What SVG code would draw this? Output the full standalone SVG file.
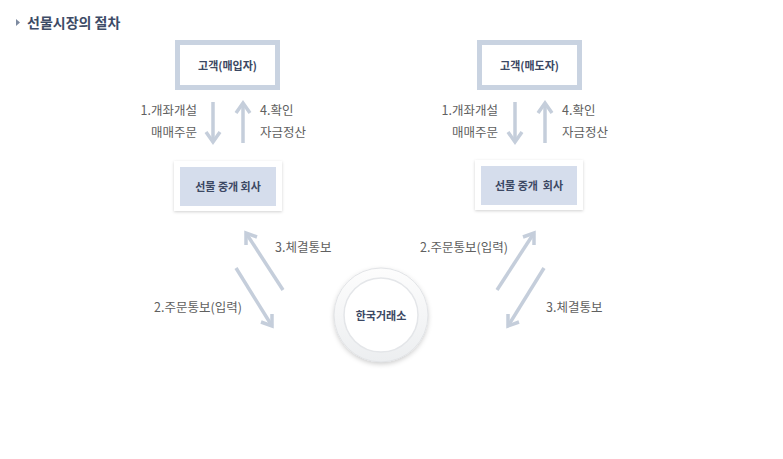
<svg xmlns="http://www.w3.org/2000/svg" width="783" height="459" viewBox="0 0 783 459">
<defs>
<style>
.lbl{font-family:"Noto Sans CJK KR","Liberation Sans",sans-serif;font-size:12.5px;fill:#606060;}
.box{font-family:"Noto Sans CJK KR","Liberation Sans",sans-serif;font-size:11px;font-weight:bold;fill:#3c4863;text-anchor:middle;}
.arr{stroke:#c5cedb;stroke-width:3.5;fill:none;stroke-linecap:butt;}
.top{fill:#fff;stroke:#c9d3e1;stroke-width:5;}
.frame{fill:#fff;filter:url(#sh);}
.inner{fill:#d5ddec;}
</style>
<filter id="sh" x="-20%" y="-30%" width="140%" height="160%">
<feDropShadow dx="0" dy="1" stdDeviation="1.5" flood-color="#000" flood-opacity="0.18"/>
</filter>
<filter id="csh" x="-30%" y="-30%" width="160%" height="160%">
<feDropShadow dx="0" dy="2" stdDeviation="2.5" flood-color="#000" flood-opacity="0.2"/>
</filter>
<linearGradient id="ringL" x1="0" y1="0" x2="0" y2="1">
<stop offset="0" stop-color="#fdfdfd"/>
<stop offset="1" stop-color="#eceef0"/>
</linearGradient>
</defs>
<rect width="783" height="459" fill="#fff"/>
<g id="title">
<polygon points="16,19 20,22.5 16,26" fill="#7d8aa0"/>
<text x="27" y="28" font-family="Noto Sans CJK KR,Liberation Sans,sans-serif" font-size="14" font-weight="bold" fill="#3d4b66">선물시장의 절차</text>
</g>
<g id="buyer">
<rect class="top" x="177.5" y="42.5" width="100" height="45"/>
<text class="box" x="227.5" y="70">고객(매입자)</text>
</g>
<g id="broker-left">
<rect class="frame" x="174" y="161" width="108" height="50"/>
<rect class="inner" x="180" y="167" width="96" height="39"/>
<text class="box" x="228" y="191">선물 중개 회사</text>
</g>
<g id="seller">
<rect class="top" x="479.5" y="42.5" width="100" height="45"/>
<text class="box" x="529.5" y="70">고객(매도자)</text>
</g>
<g id="broker-right">
<rect class="frame" x="475" y="160" width="108" height="50"/>
<rect class="inner" x="481" y="166" width="96" height="39"/>
<text class="box" x="529" y="190" xml:space="preserve">선물 중개  회사</text>
</g>
<g id="exchange">
<circle cx="381" cy="315" r="47" fill="url(#ringL)" filter="url(#csh)"/>
<circle cx="381" cy="315" r="47" fill="none" stroke="#e2e4e7" stroke-width="1"/>
<circle cx="381" cy="315" r="37" fill="#fff" stroke="#e4e6e9" stroke-width="1.5"/>
<text class="box" x="381" y="320">한국거래소</text>
</g>
<g id="connectors">
<line class="arr" x1="213" y1="102" x2="213" y2="142"/>
<polyline class="arr" points="206,132 213,142 220,132"/>
<line class="arr" x1="243" y1="103" x2="243" y2="143"/>
<polyline class="arr" points="236,113 243,103 250,113"/>
<line class="arr" x1="515" y1="102" x2="515" y2="142"/>
<polyline class="arr" points="508,132 515,142 522,132"/>
<line class="arr" x1="545" y1="103" x2="545" y2="143"/>
<polyline class="arr" points="538,113 545,103 552,113"/>
<line class="arr" x1="283" y1="290" x2="246" y2="233"/>
<polyline class="arr" points="246,245 246,233 257,237"/>
<line class="arr" x1="236" y1="268" x2="272" y2="326"/>
<polyline class="arr" points="272,314 272,326 261,322"/>
<line class="arr" x1="497" y1="290" x2="534" y2="233"/>
<polyline class="arr" points="523,237 534,233 534,245"/>
<line class="arr" x1="544" y1="268" x2="508" y2="326"/>
<polyline class="arr" points="508,314 508,326 519,322"/>
</g>
<g id="labels">
<text class="lbl" x="197" y="115" text-anchor="end">1.개좌개설</text>
<text class="lbl" x="197" y="137" text-anchor="end">매매주문</text>
<text class="lbl" x="260" y="115">4.확인</text>
<text class="lbl" x="260" y="137">자금정산</text>
<text class="lbl" x="498" y="115" text-anchor="end">1.개좌개설</text>
<text class="lbl" x="498" y="137" text-anchor="end">매매주문</text>
<text class="lbl" x="562" y="115">4.확인</text>
<text class="lbl" x="562" y="137">자금정산</text>
<text class="lbl" x="275" y="252">3.체결통보</text>
<text class="lbl" x="154" y="312">2.주문통보(입력)</text>
<text class="lbl" x="420" y="252">2.주문통보(입력)</text>
<text class="lbl" x="546" y="312">3.체결통보</text>
</g>
</svg>
